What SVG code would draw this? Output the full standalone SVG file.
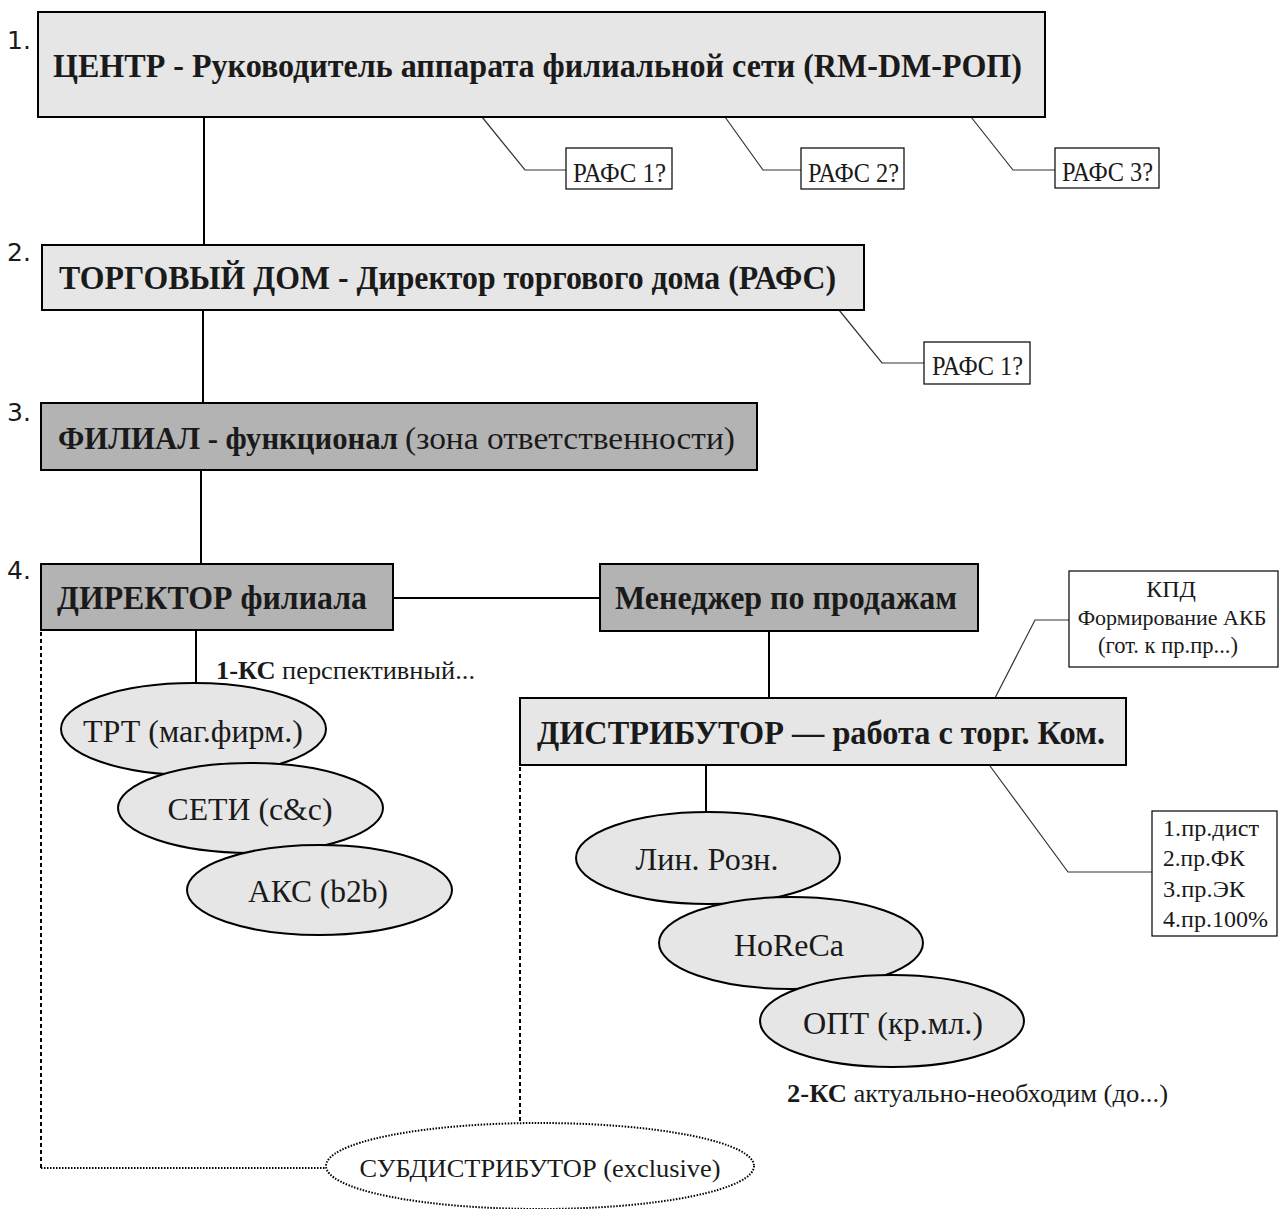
<svg xmlns="http://www.w3.org/2000/svg" width="1279" height="1209" viewBox="0 0 1279 1209">
<style>
.bx{stroke:#000;stroke-width:2}
.lt{fill:#e6e6e6}
.dk{fill:#b3b3b3}
.wb{fill:#fff;stroke:#000;stroke-width:1.2}
.el{fill:#e6e6e6;stroke:#000;stroke-width:2}
.t{font-family:"Liberation Serif","Times New Roman",serif;fill:#1a1a1a}
.b{font-weight:bold}
.num{font-family:"DejaVu Sans",sans-serif;font-size:25px;fill:#1a1a1a}
.ln{stroke:#000;stroke-width:2;fill:none}
.ld{stroke:#333;stroke-width:1.2;fill:none}
.dash{stroke:#000;stroke-width:2;fill:none;stroke-dasharray:4 3}
.dot{stroke:#000;stroke-width:2;fill:none;stroke-dasharray:1.5 1.5}
</style>
<rect width="1279" height="1209" fill="#fff"/>
<g id="connectors">
<line class="ln" x1="204" y1="117" x2="204" y2="245"/>
<line class="ln" x1="203" y1="310" x2="203" y2="403"/>
<line class="ln" x1="201" y1="470" x2="201" y2="564"/>
<line class="ln" x1="393" y1="598" x2="600" y2="598"/>
<line class="ln" x1="769" y1="631" x2="769" y2="698"/>
<line class="ln" x1="196" y1="630" x2="196" y2="683"/>
<line class="ln" x1="706" y1="765" x2="706" y2="812"/>
<polyline class="ld" points="482,117 525,170 566,170"/>
<polyline class="ld" points="725,117 763,170 801,170"/>
<polyline class="ld" points="971,117 1013,170 1055,170"/>
<polyline class="ld" points="839,310 882,363 924,363"/>
<polyline class="ld" points="995,698 1035,620 1069,620"/>
<polyline class="ld" points="990,766 1068,872 1152,872"/>
<polyline class="dash" points="41,632 41,1168"/>
<line class="dot" x1="41" y1="1168" x2="326" y2="1168"/>
<line class="dash" x1="520" y1="767" x2="520" y2="1123"/>
</g>
<g id="labels-num">
<text class="num" x="7" y="49">1.</text>
<text class="num" x="7" y="261">2.</text>
<text class="num" x="7" y="421">3.</text>
<text class="num" x="7" y="579">4.</text>
</g>
<g id="n-center">
<rect class="bx lt" x="38" y="12" width="1007" height="105"/>
<text class="t b" x="53" y="77" font-size="33" textLength="969" lengthAdjust="spacingAndGlyphs">ЦЕНТР - Руководитель аппарата филиальной сети (RM-DM-РОП)</text>
</g>
<g id="n-rafs1">
<rect class="wb" x="566" y="148" width="106" height="41"/>
<text class="t" x="573" y="182" font-size="28" textLength="93" lengthAdjust="spacingAndGlyphs">РАФС 1?</text>
</g>
<g id="n-rafs2">
<rect class="wb" x="801" y="148" width="103" height="41"/>
<text class="t" x="808" y="182" font-size="28" textLength="91" lengthAdjust="spacingAndGlyphs">РАФС 2?</text>
</g>
<g id="n-rafs3">
<rect class="wb" x="1055" y="148" width="104" height="40"/>
<text class="t" x="1062" y="181" font-size="28" textLength="91" lengthAdjust="spacingAndGlyphs">РАФС 3?</text>
</g>
<g id="n-td">
<rect class="bx lt" x="42" y="245" width="822" height="65"/>
<text class="t b" x="59" y="289" font-size="33" textLength="777" lengthAdjust="spacingAndGlyphs">ТОРГОВЫЙ ДОМ - Директор торгового дома (РАФС)</text>
</g>
<g id="n-rafs1b">
<rect class="wb" x="924" y="342" width="106" height="42"/>
<text class="t" x="932" y="375" font-size="28" textLength="91" lengthAdjust="spacingAndGlyphs">РАФС 1?</text>
</g>
<g id="n-filial">
<rect class="bx dk" x="41" y="403" width="716" height="67"/>
<text class="t b" x="58" y="449" font-size="32" textLength="340" lengthAdjust="spacingAndGlyphs">ФИЛИАЛ - функционал</text>
<text class="t" x="405" y="449" font-size="32" textLength="330" lengthAdjust="spacingAndGlyphs">(зона ответственности)</text>
</g>
<g id="n-director">
<rect class="bx dk" x="41" y="564" width="352" height="66"/>
<text class="t b" x="57" y="609" font-size="33" textLength="310" lengthAdjust="spacingAndGlyphs">ДИРЕКТОР филиала</text>
</g>
<g id="n-manager">
<rect class="bx dk" x="600" y="564" width="378" height="67"/>
<text class="t b" x="615" y="609" font-size="33" textLength="342" lengthAdjust="spacingAndGlyphs">Менеджер по продажам</text>
</g>
<g id="n-kpd">
<rect class="wb" x="1069" y="571" width="209" height="96"/>
<text class="t" x="1171" y="597" font-size="24" text-anchor="middle">КПД</text>
<text class="t" x="1172" y="625" font-size="22" text-anchor="middle">Формирование АКБ</text>
<text class="t" x="1168" y="653" font-size="24" text-anchor="middle" textLength="140" lengthAdjust="spacingAndGlyphs">(гот. к пр.пр...)</text>
</g>
<g id="n-distributor">
<rect class="bx lt" x="520" y="698" width="606" height="67"/>
<text class="t b" x="537" y="744" font-size="33" textLength="568" lengthAdjust="spacingAndGlyphs">ДИСТРИБУТОР — работа с торг. Ком.</text>
</g>
<g id="n-list">
<rect class="wb" x="1152" y="811" width="125" height="125"/>
<text class="t" x="1163" y="836" font-size="24" textLength="96" lengthAdjust="spacingAndGlyphs">1.пр.дист</text>
<text class="t" x="1163" y="866" font-size="24" textLength="82" lengthAdjust="spacingAndGlyphs">2.пр.ФК</text>
<text class="t" x="1163" y="897" font-size="24" textLength="82" lengthAdjust="spacingAndGlyphs">3.пр.ЭК</text>
<text class="t" x="1163" y="927" font-size="24" textLength="105" lengthAdjust="spacingAndGlyphs">4.пр.100%</text>
</g>
<g id="n-ks1">
<text class="t" x="216" y="679" font-size="25" textLength="259" lengthAdjust="spacingAndGlyphs"><tspan class="b">1-КС</tspan> перспективный...</text>
</g>
<g id="n-trt">
<ellipse class="el" cx="193.5" cy="729" rx="132.5" ry="46"/>
<text class="t" x="193" y="742" font-size="32" text-anchor="middle" textLength="220" lengthAdjust="spacingAndGlyphs">ТРТ (маг.фирм.)</text>
</g>
<g id="n-seti">
<ellipse class="el" cx="250.5" cy="808" rx="132.5" ry="45"/>
<text class="t" x="250" y="820" font-size="32" text-anchor="middle" textLength="165" lengthAdjust="spacingAndGlyphs">СЕТИ (c&amp;c)</text>
</g>
<g id="n-aks">
<ellipse class="el" cx="319.5" cy="890" rx="132.5" ry="45"/>
<text class="t" x="318" y="902" font-size="32" text-anchor="middle" textLength="140" lengthAdjust="spacingAndGlyphs">АКС (b2b)</text>
</g>
<g id="n-lin">
<ellipse class="el" cx="708" cy="858" rx="132" ry="46"/>
<text class="t" x="707" y="870" font-size="32" text-anchor="middle" textLength="143" lengthAdjust="spacingAndGlyphs">Лин. Розн.</text>
</g>
<g id="n-horeca">
<ellipse class="el" cx="791" cy="943" rx="132" ry="46"/>
<text class="t" x="789" y="956" font-size="32" text-anchor="middle" textLength="110" lengthAdjust="spacingAndGlyphs">HoReCa</text>
</g>
<g id="n-opt">
<ellipse class="el" cx="892" cy="1021" rx="132" ry="46"/>
<text class="t" x="893" y="1034" font-size="32" text-anchor="middle" textLength="180" lengthAdjust="spacingAndGlyphs">ОПТ (кр.мл.)</text>
</g>
<g id="n-ks2">
<text class="t" x="787" y="1102" font-size="25" textLength="381" lengthAdjust="spacingAndGlyphs"><tspan class="b">2-КС</tspan> актуально-необходим (до...)</text>
</g>
<g id="n-sub">
<ellipse cx="540" cy="1166" rx="214" ry="43" fill="#fff" class="dot"/>
<text class="t" x="540" y="1177" font-size="26" text-anchor="middle" textLength="361" lengthAdjust="spacingAndGlyphs">СУБДИСТРИБУТОР (exclusive)</text>
</g>
</svg>
